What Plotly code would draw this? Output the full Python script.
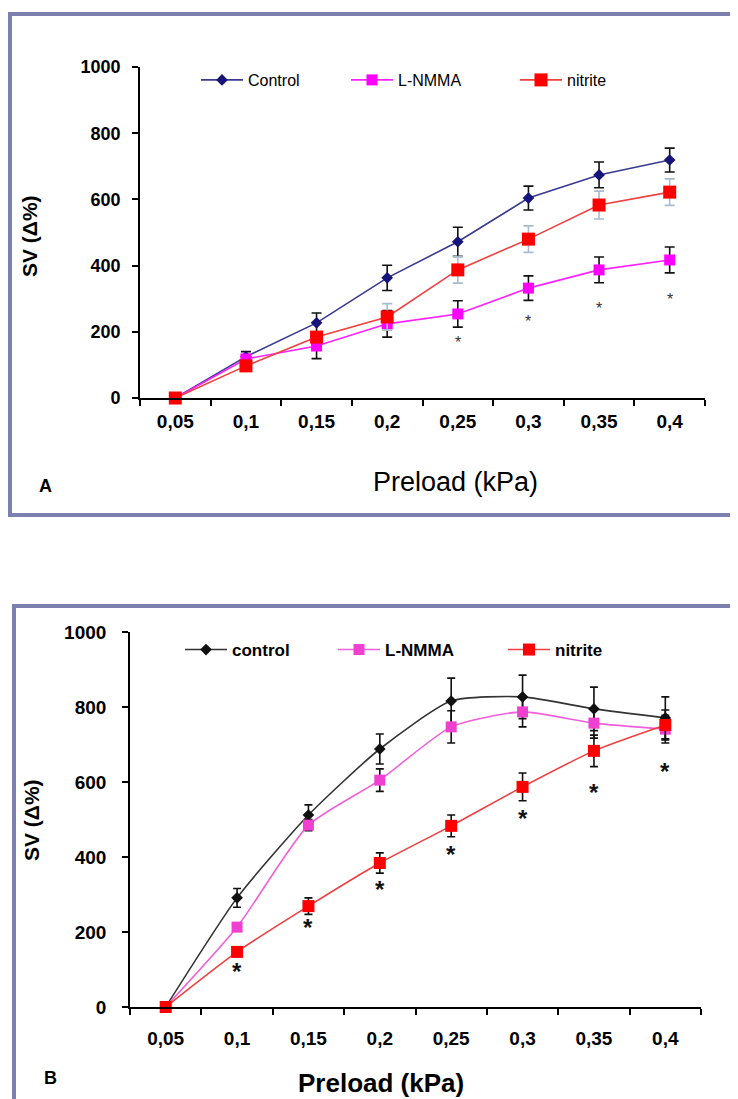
import plotly.graph_objects as go

# ---------------- data ----------------
categories = ["0,05", "0,1", "0,15", "0,2", "0,25", "0,3", "0,35", "0,4"]

# Panel A
control_a = [0, 125, 227, 363, 472, 604, 674, 719]
control_a_err = [0, 15, 30, 38, 44, 36, 39, 36]
lnmma_a = [0, 118, 157, 224, 254, 332, 387, 417]
lnmma_a_err = [0, 10, 38, 40, 40, 37, 39, 39]
nitrite_a = [0, 97, 184, 245, 387, 480, 583, 622]
nitrite_a_err = [0, 10, 15, 40, 40, 40, 42, 40]
star_a_idx = [4, 5, 6, 7]
star_a_y = [178, 239, 278, 308]

# Panel B
control_b = [0, 291, 512, 688, 816, 827, 795, 771]
control_b_err = [0, 25, 27, 40, 61, 58, 58, 56]
lnmma_b = [0, 213, 485, 605, 747, 787, 757, 741]
lnmma_b_err = [0, 0, 15, 30, 43, 40, 40, 37]
nitrite_b = [0, 147, 269, 384, 483, 587, 683, 752]
nitrite_b_err = [0, 12, 22, 27, 29, 37, 42, 40]
star_b_idx = [1, 2, 3, 4, 5, 6, 7]
star_b_y = [112, 227, 330, 424, 520, 589, 645]

yticks = [0, 200, 400, 600, 800, 1000]

# ---------------- layout helpers ----------------
W, H = 738, 1099
OFF = 8  # page body margin
def px(x):
    return (x - OFF) / W
def py(y):
    return 1 - (y - OFF) / H

ARIAL = "Liberation Sans, Arial, sans-serif"
FRAME = "#7B80B0"

fig = go.Figure()

def add_series(xa, ya, y, err, name, color, linecolor, symbol, size, errcolor,
               legend, shape="linear", errw=5):
    fig.add_trace(go.Scatter(
        x=categories, y=y, name=name, mode="lines+markers", showlegend=True,
        xaxis=xa, yaxis=ya, legend=legend, cliponaxis=False,
        line=dict(color=linecolor, width=1.6, shape=shape, smoothing=0.6),
        marker=dict(symbol=symbol, size=size, color=color),
        error_y=dict(type="data", array=err, visible=True, color=errcolor,
                     thickness=1.6, width=errw),
    ))

# Panel A
add_series("x", "y", control_a, control_a_err, "Control", "#14147A", "#3A3A90",
           "diamond", 9, "#111111", "legend")
add_series("x", "y", lnmma_a, lnmma_a_err, "L-NMMA", "#FF00FF", "#FF20FF",
           "square", 11, "#111111", "legend2")
add_series("x", "y", nitrite_a, nitrite_a_err, "nitrite", "#FF0000", "#F04040",
           "square", 13, "#A8BCD0", "legend3")

# Panel B
add_series("x2", "y2", control_b, control_b_err, "control", "#111111", "#333333",
           "diamond", 9, "#111111", "legend4", shape="spline", errw=4)
add_series("x2", "y2", lnmma_b, lnmma_b_err, "L-NMMA", "#F040D0", "#F060D8",
           "square", 11, "#111111", "legend5", shape="spline", errw=4)
add_series("x2", "y2", nitrite_b, nitrite_b_err, "nitrite", "#FF0000", "#EE4040",
           "square", 12, "#111111", "legend6", shape="spline", errw=4)

# significance asterisks (annotations in data coordinates)
for i, yv in zip(star_a_idx, star_a_y):
    fig.add_annotation(x=categories[i], y=yv, xref="x", yref="y", text="*", showarrow=False,
                       yshift=-3, font=dict(family=ARIAL, size=16, color="#333333"))
for i, yv in zip(star_b_idx, star_b_y):
    fig.add_annotation(x=categories[i], y=yv, xref="x2", yref="y2", text="*", showarrow=False,
                       yshift=-6, font=dict(family=ARIAL, size=24, color="#111111", weight="bold"))

common_x = dict(type="category", range=[-0.5, 7.5], tickson="boundaries", ticks="outside",
                ticklen=6, tickwidth=1.6, tickcolor="black", showline=True, linecolor="black",
                linewidth=1.6, showgrid=False, zeroline=False, fixedrange=True, automargin=False)
common_y = dict(range=[0, 1000], tickvals=yticks, ticks="outside", ticklen=6, tickwidth=1.6,
                tickcolor="black", showline=True, linecolor="black", linewidth=1.6,
                showgrid=False, zeroline=False, fixedrange=True, automargin=False)

fig.update_layout(
    width=W, height=H, autosize=False, showlegend=True,
    margin=dict(l=0, r=0, t=0, b=0, pad=0, autoexpand=False),
    paper_bgcolor="white", plot_bgcolor="rgba(0,0,0,0)",
    xaxis=dict(domain=[px(140), px(705)], anchor="y", **common_x,
               tickfont=dict(family=ARIAL, size=19, color="black", weight="bold"),
               ticklabelstandoff=5),
    yaxis=dict(domain=[py(398), py(67)], anchor="x", **common_y,
               tickfont=dict(family=ARIAL, size=18, color="black", weight="bold"),
               ticklabelstandoff=8),
    xaxis2=dict(domain=[px(130), px(701)], anchor="y2", **common_x,
                tickfont=dict(family=ARIAL, size=19, color="black", weight="bold"),
                ticklabelstandoff=13),
    yaxis2=dict(domain=[py(1007), py(632)], anchor="x2", **common_y,
                tickfont=dict(family=ARIAL, size=19, color="black", weight="bold"),
                ticklabelstandoff=12),
)

leg_common = dict(orientation="h", xanchor="left", yanchor="middle", bgcolor="rgba(0,0,0,0)",
                  borderwidth=0, itemclick=False, itemdoubleclick=False, itemwidth=42,
                  visible=True)
fontA = dict(family=ARIAL, size=16, color="black")
fontB = dict(family=ARIAL, size=17, color="black", weight="bold")
fig.update_layout(
    legend=dict(x=px(196), y=py(80), font=fontA, **leg_common),
    legend2=dict(x=px(346), y=py(80), font=fontA, **leg_common),
    legend3=dict(x=px(515), y=py(80), font=fontA, **leg_common),
    legend4=dict(x=px(180), y=py(650), font=fontB, **leg_common),
    legend5=dict(x=px(333), y=py(650), font=fontB, **leg_common),
    legend6=dict(x=px(503), y=py(650), font=fontB, **leg_common),
)

# frames around the panels
fig.add_shape(type="rect", xref="paper", yref="paper", x0=px(10), x1=px(770),
              y0=py(515), y1=py(14), line=dict(color=FRAME, width=4), layer="below")
fig.add_shape(type="rect", xref="paper", yref="paper", x0=px(14), x1=px(770),
              y0=py(1140), y1=py(606), line=dict(color=FRAME, width=4), layer="below")

annotations = [
    dict(text="SV (Δ%)", x=px(30), y=py(236), textangle=-90,
         font=dict(family=ARIAL, size=21, color="black", weight="bold")),
    dict(text="Preload (kPa)", x=px(455), y=py(482),
         font=dict(family=ARIAL, size=27, color="black")),
    dict(text="A", x=px(45), y=py(486),
         font=dict(family=ARIAL, size=18, color="black", weight="bold")),
    dict(text="SV (Δ%)", x=px(32), y=py(820), textangle=-90,
         font=dict(family=ARIAL, size=21, color="black", weight="bold")),
    dict(text="Preload (kPa)", x=px(381), y=py(1083),
         font=dict(family=ARIAL, size=26, color="black", weight="bold")),
    dict(text="B", x=px(50), y=py(1078),
         font=dict(family=ARIAL, size=18, color="black", weight="bold")),
]
for a in annotations:
    fig.add_annotation(xref="paper", yref="paper", showarrow=False,
                       xanchor="center", yanchor="middle", **a)

fig.write_html("out.html")
